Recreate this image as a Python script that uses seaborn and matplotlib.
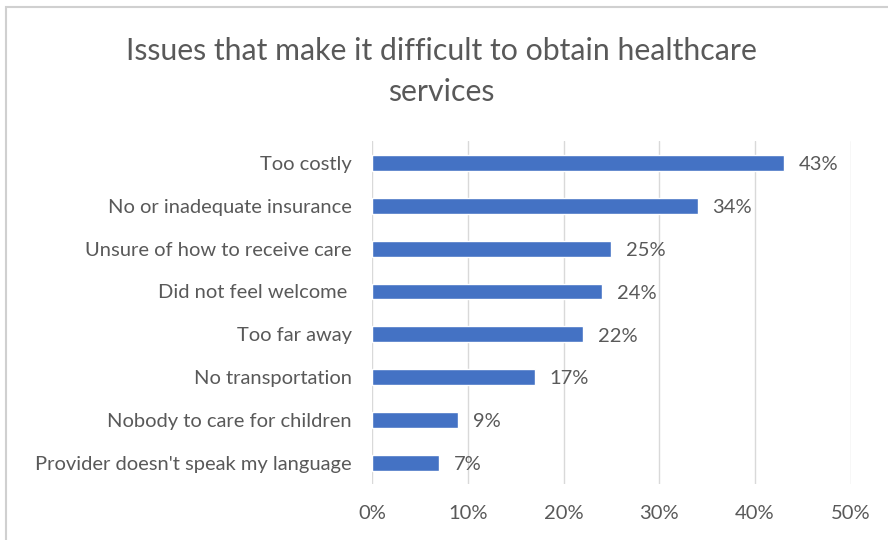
import matplotlib
matplotlib.use("Agg")
import matplotlib.pyplot as plt
import seaborn as sns
import pandas as pd
from matplotlib.patches import Rectangle
from matplotlib.ticker import PercentFormatter

issues = [
    "Too costly",
    "No or inadequate insurance",
    "Unsure of how to receive care",
    "Did not feel welcome ",
    "Too far away",
    "No transportation",
    "Nobody to care for children",
    "Provider doesn't speak my language",
]
shares = [43, 34, 25, 24, 22, 17, 9, 7]
x_ticks = [0, 10, 20, 30, 40, 50]

df = pd.DataFrame({"issue": issues, "share": shares})

sns.set_style("white")
plt.rcParams["font.family"] = ["Lato", "DejaVu Sans"]
text_color = "#595959"

fig = plt.figure(figsize=(8.88, 5.4), dpi=100)
ax = fig.add_axes([0.419, 0.103, 0.539, 0.635])

sns.barplot(data=df, x="share", y="issue", color="#4472C4", width=0.37,
            saturation=1, ax=ax)

ax.set_xlim(0, 50)
ax.set_xticks(x_ticks)
ax.xaxis.set_major_formatter(PercentFormatter(decimals=0))
ax.grid(axis="x", color="#D9D9D9", linewidth=1)
ax.set_axisbelow(True)
for s in ax.spines.values():
    s.set_visible(False)
ax.set_xlabel("")
ax.set_ylabel("")
ax.tick_params(axis="both", length=0, labelsize=14.5, colors=text_color)
ax.tick_params(axis="y", pad=14.5)
ax.tick_params(axis="x", pad=15)

# value labels to the right of each bar
for bar, v in zip(ax.patches, shares):
    ax.text(bar.get_width() + 1.55, bar.get_y() + bar.get_height() / 2 + 0.04,
            f"{v}%", va="center", ha="left", fontsize=14.5, color=text_color)

fig.text(0.497, 0.867, "Issues that make it difficult to obtain healthcare\nservices",
         ha="center", va="center", fontsize=21.8, color=text_color, linespacing=1.55)

# light frame around the chart area
fig.patches.append(Rectangle((6 / 888, -0.1), 1.2, 1.1 - 7 / 540, transform=fig.transFigure,
                             fill=False, edgecolor="#D0D0D0", linewidth=1.5))

fig.savefig("out.png", dpi=100)
